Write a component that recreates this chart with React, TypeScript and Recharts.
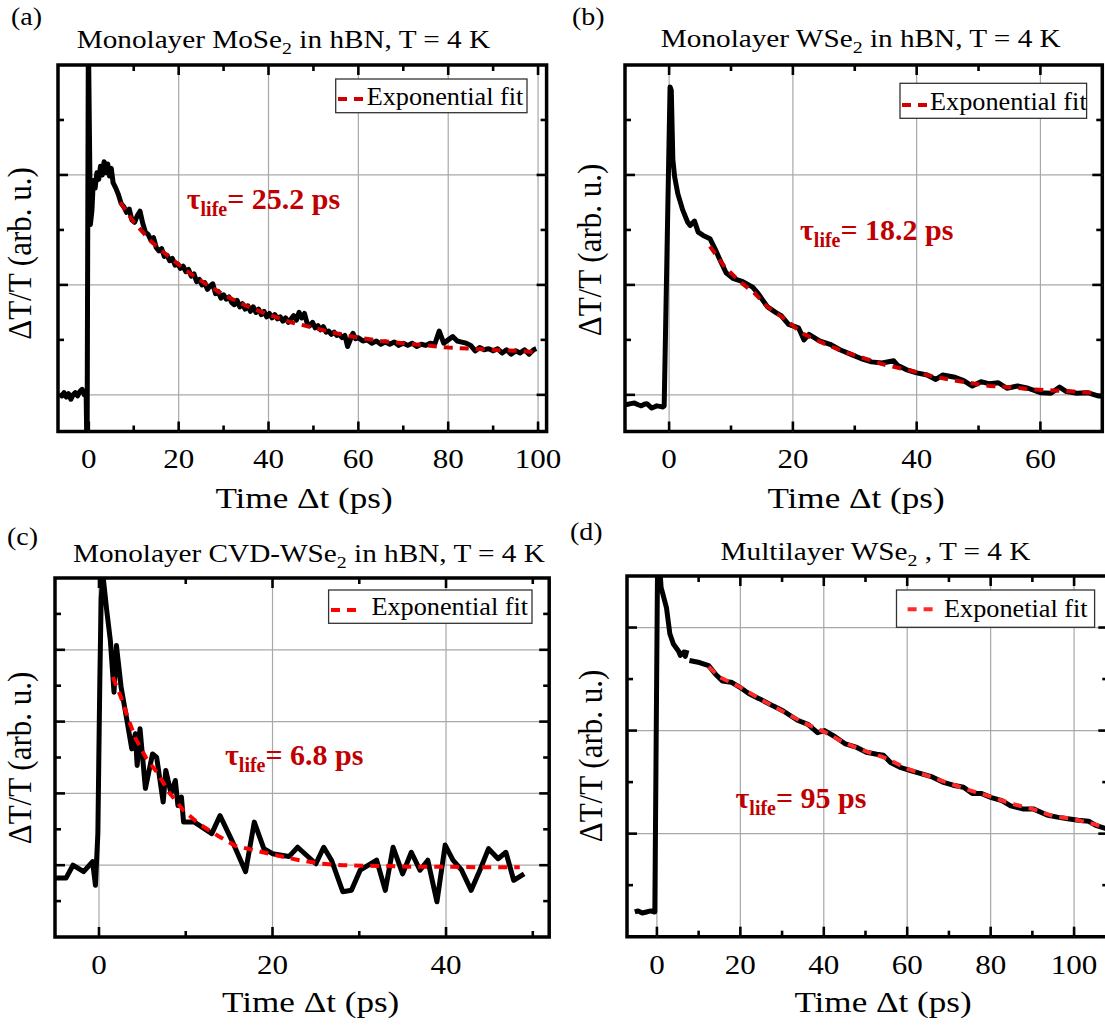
import React from 'react';
import { LineChart, Line, XAxis, YAxis, ReferenceLine, ReferenceArea } from 'recharts';

const FONT = '"Liberation Serif", "Times New Roman", serif';

// ---------- Panel (a): Monolayer MoSe2 ----------
const aTime = [
  -6.5, -6, -5.5, -5, -4.5, -4, -3.5, -3, -2.5, -2,
  -1.5, -1, -0.6, -0.4, -0.1, 0.35, 0.7, 1, 1.4, 1.8,
  2.2, 2.6, 3, 3.4, 3.8, 4.2, 4.6, 5, 5.4, 6,
  6.6, 7.2, 7.8, 8.4, 9.0, 9.6, 10.2, 10.8, 11.4, 12.0,
  12.6, 13.2, 13.8, 14.4, 15.0, 15.6, 16.2, 16.8, 17.4, 18.0,
  18.6, 19.2, 19.8, 20.4, 21.0, 21.6, 22.2, 22.8, 23.4, 24.0,
  24.6, 25.2, 25.8, 26.4, 27.0, 27.6, 28.2, 28.8, 29.4, 30.0,
  30.6, 31.2, 31.8, 32.4, 33.0, 33.6, 34.2, 34.8, 35.4, 36.0,
  36.6, 37.2, 37.8, 38.4, 39.0, 39.6, 40.2, 40.8, 41.4, 42.0,
  42.6, 43.2, 43.8, 44.4, 45.0, 45.6, 46.2, 46.8, 47.4, 48.0,
  48.6, 49.2, 49.8, 50.4, 51.0, 51.6, 52.2, 52.8, 53.4, 54.0,
  54.6, 55.2, 55.8, 56.4, 57.0, 57.6, 58.2, 58.8, 59.4,
  60, 61, 62, 63, 64, 65, 66, 67, 68, 69,
  70, 71, 72, 73, 74, 75, 76, 77, 78, 79,
  80, 81, 82, 83, 84, 85, 86, 87, 88, 89,
  90, 91, 92, 93, 94, 95, 96, 97, 98, 99, 99.6,
];
const aSignal = [
  0.01, -0.01, 0.02, -0.02, 0.01, -0.04, 0, 0.02, -0.01, 0.03,
  0.05, 0.0, 0.02, -0.6, 3.3, 1.55, 1.68, 1.95, 1.88, 2.02,
  1.96, 2.08, 2.0, 2.12, 2.02, 2.1, 1.99, 2.06, 1.93, 1.88,
  1.82, 1.74, 1.71, 1.66, 1.69, 1.59, 1.57, 1.63, 1.67, 1.56,
  1.48, 1.46, 1.41, 1.43, 1.34, 1.31, 1.33, 1.26, 1.27, 1.22,
  1.24, 1.18, 1.19, 1.15, 1.17, 1.12, 1.14, 1.08, 1.1, 1.03,
  1.05, 1.0, 1.02, 0.96, 0.99, 1.01, 0.92, 0.94, 0.88, 0.91,
  0.87, 0.89, 0.84, 0.82, 0.86, 0.8, 0.83, 0.78, 0.81, 0.76,
  0.8, 0.75, 0.78, 0.73, 0.76, 0.71, 0.74, 0.7, 0.73, 0.69,
  0.71, 0.67, 0.7, 0.66, 0.69, 0.72, 0.68, 0.75, 0.7, 0.74,
  0.65, 0.63, 0.66, 0.61, 0.63, 0.59, 0.62, 0.57, 0.58, 0.55,
  0.57, 0.54, 0.55, 0.52, 0.54, 0.44, 0.5, 0.56, 0.51,
  0.52, 0.49, 0.5, 0.47, 0.49, 0.46, 0.48, 0.46, 0.48, 0.45,
  0.47, 0.45, 0.47, 0.44, 0.46, 0.45, 0.47, 0.46, 0.58, 0.47,
  0.5, 0.53, 0.49, 0.48, 0.47, 0.45, 0.4, 0.43, 0.41, 0.42,
  0.4, 0.42, 0.38, 0.41, 0.37, 0.4, 0.38, 0.41, 0.37, 0.41, 0.42,
];
const aFitTime = [7, 10, 14, 18, 22, 26, 30, 35, 40, 45, 50, 55, 60, 65, 70, 75, 80, 85, 90, 95, 99];
const aFitValue = [1.75, 1.57, 1.39, 1.25, 1.12, 1.01, 0.91, 0.81, 0.73, 0.66, 0.61, 0.56, 0.52, 0.49, 0.47, 0.45, 0.43, 0.42, 0.41, 0.4, 0.39];

// ---------- Panel (b): Monolayer WSe2 ----------
const bTime = [
  -7, -6.2, -5.6, -5.0, -4.5, -4.0, -3.6, -3.2, -2.8, -2.4,
  -2.0, -1.5, -1.0, -0.8, 0.15, 0.35, 0.6, 0.9, 1.4, 2.2,
  3.0, 3.4, 4.1, 4.7, 5.5, 6.6, 7.4, 8.2, 9.2, 10.3,
  11.9, 13.5, 14.4, 15.9, 17.2, 18.1, 19.3, 20.9, 21.8, 22.6,
  24.3, 26.0, 27.6, 29.3, 31.0, 32.7, 34.4, 36.3, 36.9, 38.3,
  40.0, 41.7, 43.1, 44.2, 46.2, 47.6, 49.0, 50.4, 51.8, 53.2,
  54.6, 56.3, 58.0, 60.0, 61.7, 63.1, 64.2, 65.9, 67.6, 69.3, 70,
];
const bSignal = [
  -0.09, -0.08, -0.075, -0.09, -0.1, -0.085, -0.08, -0.1, -0.12, -0.11,
  -0.1, -0.105, -0.11, -0.1, 2.8, 2.77, 2.14, 1.98, 1.83, 1.68,
  1.57, 1.54, 1.58, 1.48, 1.45, 1.42, 1.33, 1.23, 1.11, 1.06,
  1.03, 0.98, 0.92, 0.8, 0.75, 0.72, 0.64, 0.61, 0.5, 0.55,
  0.49, 0.46, 0.41, 0.37, 0.33, 0.3, 0.29, 0.31, 0.27, 0.23,
  0.2, 0.18, 0.14, 0.18, 0.16, 0.13, 0.08, 0.12, 0.1, 0.11,
  0.06, 0.08, 0.06, 0.02, 0.015, 0.07, 0.03, 0.015, 0.02, -0.01, -0.01,
];
const bFitTime = [6.6, 8.9, 11.4, 13.7, 15.9, 18.7, 21.5, 24.9, 28.3, 31.7, 35.0, 38.4, 41.7, 45.1, 48.5, 51.8, 55.2, 58.6, 62, 65.4, 69];
const bFitValue = [1.35, 1.17, 1.03, 0.93, 0.8, 0.69, 0.56, 0.47, 0.39, 0.33, 0.27, 0.23, 0.18, 0.14, 0.11, 0.08, 0.07, 0.05, 0.04, 0.03, 0.015];

// ---------- Panel (c): Monolayer CVD-WSe2 ----------
const cTime = [
  -5, -4.65, -3.8, -3.0, -1.77, -0.74, -0.41, -0.13, 0.1, 0.25,
  0.45, 0.9, 1.31, 1.73, 2.01, 2.55, 3.16, 3.78, 4.19, 4.4,
  4.73, 5.35, 6.17, 6.65, 7.4, 7.7, 8.3, 8.8, 9.1, 9.5,
  9.75, 11.0, 13.0, 13.95, 15.3, 16.9, 17.9, 19.0, 20.0, 21.9,
  22.9, 25.0, 25.9, 26.8, 28.1, 29.1, 30.1, 32.0, 33.0, 33.9,
  35.0, 36.0, 37.0, 37.9, 38.95, 39.9, 40.8, 41.8, 42.9, 43.9,
  44.9, 46.0, 46.9, 47.8, 49.0,
];
const cSignal = [
  -0.18, -0.18, -0.18, 0.0, -0.09, 0.05, -0.28, 0.44, 2.6, 3.7,
  4.05, 3.54, 3.13, 2.41, 3.06, 2.48, 2.06, 1.62, 1.83, 1.39,
  1.9, 1.07, 1.55, 1.5, 0.88, 1.32, 1.0, 1.18, 0.83, 0.95,
  0.6, 0.6, 0.44, 0.69, 0.35, -0.09, 0.6, 0.23, 0.16, 0.12,
  0.25, 0.02, 0.25, 0.07, -0.37, -0.35, -0.07, 0.07, -0.35, 0.25,
  -0.12, 0.18, -0.07, 0.07, -0.51, 0.28, 0.07, -0.07, -0.35, -0.07,
  0.23, 0.09, 0.18, -0.21, -0.12,
];
const cFitTime = [1.6, 2.5, 3.4, 4.2, 5.45, 6.7, 8.1, 9.75, 11.6, 13.7, 15.7, 18.2, 20.7, 23.1, 25.6, 28.1, 32, 36, 40, 44, 48.5];
const cFitValue = [2.62, 2.35, 2.03, 1.77, 1.49, 1.29, 1.01, 0.76, 0.57, 0.41, 0.27, 0.2, 0.13, 0.07, 0.02, 0.0, -0.01, -0.02, -0.02, -0.03, -0.03];

// ---------- Panel (d): Multilayer WSe2 ----------
const dTime = [
  -5.3, -4.5, -3.5, -2.5, -1.5, -0.7, -0.5, 0.15, 0.5, 1.0,
  2.3, 3.1, 3.95, 5.2, 5.6, 6.4, 6.8, 7.2, 7.5, 7.8,
  10.2, 12.4, 14.0, 15.7, 17.8, 19.9, 22.0, 24.5, 27.8, 30.3,
  33.7, 36.2, 38.5, 40.2, 42.7, 45.2, 47.7, 50.2, 52.7, 54.3,
  56.0, 58.5, 61.0, 63.5, 66.0, 68.5, 71.0, 73.5, 75.6, 77.7,
  80.2, 82.7, 84.8, 87.7, 90.2, 93.5, 96, 98.5, 101, 103.5,
  105.2, 107.5, 108.2,
];
const dSignal = [
  -0.76, -0.75, -0.77, -0.76, -0.75, -0.76, -0.76, 2.6, 2.7, 2.39,
  2.19, 1.94, 1.84, 1.77, 1.73, 1.76, 1.72, 1.78, null, 1.68,
  1.66, 1.63, 1.55, 1.48, 1.47, 1.42, 1.36, 1.31, 1.24, 1.19,
  1.1, 1.06, 0.98, 1.0, 0.94, 0.87, 0.84, 0.79, 0.77, 0.76,
  0.69, 0.64, 0.61, 0.58, 0.55, 0.5, 0.47, 0.45, 0.39, 0.39,
  0.35, 0.32, 0.27, 0.24, 0.24, 0.18, 0.16, 0.145, 0.13, 0.12,
  0.08, 0.05, 0.04,
];
const dFitTime = [12.4, 15, 20, 25, 30, 35, 40, 45, 50, 55, 60, 65, 70, 75, 80, 85, 90, 95, 100, 105, 108];
const dFitValue = [1.62, 1.52, 1.42, 1.3, 1.19, 1.08, 0.99, 0.88, 0.8, 0.73, 0.63, 0.56, 0.49, 0.42, 0.36, 0.29, 0.24, 0.17, 0.14, 0.09, 0.05];

// ---------- Axis ticks ----------
const aXMajor = [0, 20, 40, 60, 80, 100];
const aXMinor = [10, 30, 50, 70, 90];
const bXMajor = [0, 20, 40, 60];
const bXMinor = [10, 30, 50];
const cXMajor = [0, 20, 40];
const cXMinor = [10, 30, 50];
const dXMajor = [0, 20, 40, 60, 80, 100];
const dXMinor = [10, 30, 50, 70, 90];
const abYMajor = [0, 1, 2];
const abYMinor = [0.5, 1.5, 2.5];
const cYMajor = [0, 1, 2, 3];
const cYMinor = [-0.5, 0.5, 1.5, 2.5, 3.5];
const dYMajor = [0, 1, 2];
const dYMinor = [-0.5, 0.5, 1.5];

type Pt = { t: number; v: number | null };
const zip = (ts: number[], vs: (number | null)[]): Pt[] => ts.map((t, i) => ({ t, v: vs[i] }));

type PanelProps = {
  box: { x0: number; y0: number; x1: number; y1: number };
  xDomain: [number, number];
  yDomain: [number, number];
  xMajor: number[];
  xMinor: number[];
  yMajor: number[];
  yMinor: number[];
  data: Pt[];
  fit: Pt[];
  fitColor: string;
};

const AX = 1; // px reserved by each (invisible) axis band

function Panel(props: PanelProps) {
  const { box, xDomain, yDomain, xMajor, xMinor, yMajor, yMinor, data, fit, fitColor } = props;
  const m = { top: 20, right: 20, bottom: 60, left: 20 };
  const w = box.x1 - box.x0;
  const h = box.y1 - box.y0;
  const pT = m.top;
  const pB = m.top + h;
  const pL = m.left + AX;
  const pR = m.left + AX + w;
  const xTicks = [...xMajor, ...xMinor].sort((a, b) => a - b);
  const yTicks = [...yMajor, ...yMinor].sort((a, b) => a - b);

  const xTick = (p: any) => {
    const val = p.payload.value;
    const major = xMajor.includes(val);
    const L = major ? 10 : 6;
    return (
      <g>
        <line x1={p.x} x2={p.x} y1={pB} y2={pB - L} stroke="#000" strokeWidth={2.6} />
        <line x1={p.x} x2={p.x} y1={pT} y2={pT + L} stroke="#000" strokeWidth={2.6} />
        {major ? (
          <text
            transform={`translate(${p.x},${pB + 37}) scale(1.15,1)`}
            textAnchor="middle"
            fontFamily={FONT}
            fontSize={27}
            fill="#000"
          >
            {val}
          </text>
        ) : null}
      </g>
    );
  };
  const yTick = (p: any) => {
    const val = p.payload.value;
    const major = yMajor.includes(val);
    const L = major ? 10 : 6;
    return (
      <g>
        <line x1={pL} x2={pL + L} y1={p.y} y2={p.y} stroke="#000" strokeWidth={2.6} />
        <line x1={pR} x2={pR - L} y1={p.y} y2={p.y} stroke="#000" strokeWidth={2.6} />
      </g>
    );
  };

  return (
    <div style={{ position: 'absolute', left: box.x0 - m.left - AX, top: box.y0 - m.top }}>
      <LineChart width={w + m.left + m.right + AX} height={h + m.top + m.bottom + AX} margin={m}>
        <XAxis
          type="number"
          dataKey="t"
          domain={xDomain}
          allowDataOverflow
          ticks={xTicks}
          interval={0}
          tick={xTick}
          tickLine={false}
          axisLine={false}
          height={AX}
        />
        <YAxis
          type="number"
          domain={yDomain}
          allowDataOverflow
          ticks={yTicks}
          interval={0}
          tick={yTick}
          tickLine={false}
          axisLine={false}
          width={AX}
        />
        {xMajor.map((v) => (
          <ReferenceLine key={'gx' + v} x={v} stroke="#a8a8a8" strokeWidth={1.2} />
        ))}
        {yMajor.map((v) => (
          <ReferenceLine key={'gy' + v} y={v} stroke="#a8a8a8" strokeWidth={1.2} />
        ))}
        <Line
          data={data}
          dataKey="v"
          stroke="#000"
          strokeWidth={5}
          dot={false}
          activeDot={false}
          isAnimationActive={false}
          connectNulls={false}
          strokeLinejoin="round"
        />
        <Line
          data={fit}
          dataKey="v"
          stroke={fitColor}
          strokeWidth={4}
          strokeDasharray="9 7"
          dot={false}
          activeDot={false}
          isAnimationActive={false}
        />
        <ReferenceArea
          x1={xDomain[0]}
          x2={xDomain[1]}
          y1={yDomain[0]}
          y2={yDomain[1]}
          fill="none"
          fillOpacity={0}
          stroke="#000"
          strokeWidth={3.5}
          ifOverflow="visible"
        />
      </LineChart>
    </div>
  );
}

type Deco = {
  label: string; labelX: number; labelY: number;
  titleA: string; titleB: string; titleX: number; titleY: number;
  xLabelX: number; xLabelY: number; yLabelX: number; yLabelY: number;
  legend: { x: number; y: number; w: number; h: number; tx: number; ty: number; dx: number; dy: number; text: string; color: string };
  tau: { x: number; y: number; text: string };
};

const decos: Deco[] = [
  {
    label: '(a)', labelX: 11, labelY: 25,
    titleA: 'Monolayer MoSe', titleB: ' in hBN, T = 4 K', titleX: 76.7, titleY: 48.3,
    xLabelX: 304, xLabelY: 508, yLabelX: 31, yLabelY: 253.5,
    legend: { x: 335.7, y: 79, w: 191.3, h: 33.7, tx: 366.7, ty: 105, dx: 338, dy: 99, text: 'Exponential fit', color: '#d00000' },
    tau: { x: 186.7, y: 209.3, text: '= 25.2 ps' },
  },
  {
    label: '(b)', labelX: 572, labelY: 25,
    titleA: 'Monolayer WSe', titleB: ' in hBN, T = 4 K', titleX: 660.8, titleY: 46.7,
    xLabelX: 856, xLabelY: 508, yLabelX: 601, yLabelY: 250,
    legend: { x: 900, y: 83.3, w: 186.6, h: 35, tx: 930, ty: 110, dx: 902, dy: 105, text: 'Exponential fit', color: '#d00000' },
    tau: { x: 800, y: 240, text: '= 18.2 ps' },
  },
  {
    label: '(c)', labelX: 7, labelY: 545,
    titleA: 'Monolayer CVD-WSe', titleB: ' in hBN, T = 4 K', titleX: 73, titleY: 561.7,
    xLabelX: 310.7, xLabelY: 1012, yLabelX: 31, yLabelY: 758,
    legend: { x: 328.6, y: 590, w: 203.4, h: 33.3, tx: 371.4, ty: 615, dx: 331, dy: 610, text: 'Exponential fit', color: '#ff0000' },
    tau: { x: 225, y: 765, text: '= 6.8 ps' },
  },
  {
    label: '(d)', labelX: 570, labelY: 540,
    titleA: 'Multilayer WSe', titleB: ' , T = 4 K', titleX: 720.6, titleY: 560,
    xLabelX: 883, xLabelY: 1012, yLabelX: 602, yLabelY: 756,
    legend: { x: 896.5, y: 590, w: 198.1, h: 37.3, tx: 944, ty: 617.3, dx: 907.6, dy: 609.3, text: 'Exponetial fit', color: '#ff2a2a' },
    tau: { x: 735.5, y: 808.3, text: '= 95 ps' },
  },
];

const TAU_COLOR = '#c00000';

function Overlay() {
  return (
    <svg width={1105} height={1026} style={{ position: 'absolute', left: 0, top: 0, pointerEvents: 'none' }}>
      {decos.map((d) => (
        <g key={d.label} fontFamily={FONT} fill="#000">
          <text transform={`translate(${d.labelX},${d.labelY}) scale(1.12,1)`} fontSize={25}>{d.label}</text>
          <text transform={`translate(${d.titleX},${d.titleY}) scale(1.17,1)`} fontSize={25}>
            {d.titleA}
            <tspan fontSize={17} dy={6}>2</tspan>
            <tspan dy={-6}>{d.titleB}</tspan>
          </text>
          <text transform={`translate(${d.xLabelX},${d.xLabelY}) scale(1.17,1)`} fontSize={30} textAnchor="middle">
            Time Δt (ps)
          </text>
          <text transform={`translate(${d.yLabelX},${d.yLabelY}) scale(1.1,1) rotate(-90)`} fontSize={31} textAnchor="middle">
            ΔT/T (arb. u.)
          </text>
          <rect x={d.legend.x} y={d.legend.y} width={d.legend.w} height={d.legend.h} fill="#fff" stroke="#333" strokeWidth={1.3} />
          <line x1={d.legend.dx} x2={d.legend.dx + 25} y1={d.legend.dy} y2={d.legend.dy} stroke={d.legend.color} strokeWidth={4} strokeDasharray="9 7" />
          <text transform={`translate(${d.legend.tx},${d.legend.ty}) scale(1.05,1)`} fontSize={25}>{d.legend.text}</text>
          <text x={d.tau.x} y={d.tau.y} fontSize={30} fontWeight="bold" fill={TAU_COLOR}>
            τ
            <tspan fontSize={20} dy={7}>life</tspan>
            <tspan fontSize={30} dy={-7}>{d.tau.text}</tspan>
          </text>
        </g>
      ))}
    </svg>
  );
}

export default function App() {
  return (
    <div style={{ position: 'absolute', left: 0, top: 0, width: 1105, height: 1026, overflow: 'hidden', background: '#fff' }}>
      <Panel
        box={{ x0: 57.8, y0: 65.3, x1: 546.4, y1: 431.8 }}
        xDomain={[-6.86, 101.9]}
        yDomain={[-1 / 3, 3]}
        xMajor={aXMajor}
        xMinor={aXMinor}
        yMajor={abYMajor}
        yMinor={abYMinor}
        data={zip(aTime, aSignal)}
        fit={zip(aFitTime, aFitValue)}
        fitColor="#d00000"
      />
      <Panel
        box={{ x0: 625.4, y0: 65.3, x1: 1102.7, y1: 431.8 }}
        xDomain={[-7.13, 70]}
        yDomain={[-1 / 3, 3]}
        xMajor={bXMajor}
        xMinor={bXMinor}
        yMajor={abYMajor}
        yMinor={abYMinor}
        data={zip(bTime, bSignal)}
        fit={zip(bFitTime, bFitValue)}
        fitColor="#d00000"
      />
      <Panel
        box={{ x0: 55.4, y0: 578.3, x1: 549.6, y1: 937.3 }}
        xDomain={[-5.07, 51.89]}
        yDomain={[-1, 4]}
        xMajor={cXMajor}
        xMinor={cXMinor}
        yMajor={cYMajor}
        yMinor={cYMinor}
        data={zip(cTime, cSignal)}
        fit={zip(cFitTime, cFitValue)}
        fitColor="#ff0000"
      />
      <Panel
        box={{ x0: 626.7, y0: 576, x1: 1108, y1: 936.7 }}
        xDomain={[-7.17, 108.2]}
        yDomain={[-1, 2.5]}
        xMajor={dXMajor}
        xMinor={dXMinor}
        yMajor={dYMajor}
        yMinor={dYMinor}
        data={zip(dTime, dSignal)}
        fit={zip(dFitTime, dFitValue)}
        fitColor="#ff2a2a"
      />
      <Overlay />
    </div>
  );
}
